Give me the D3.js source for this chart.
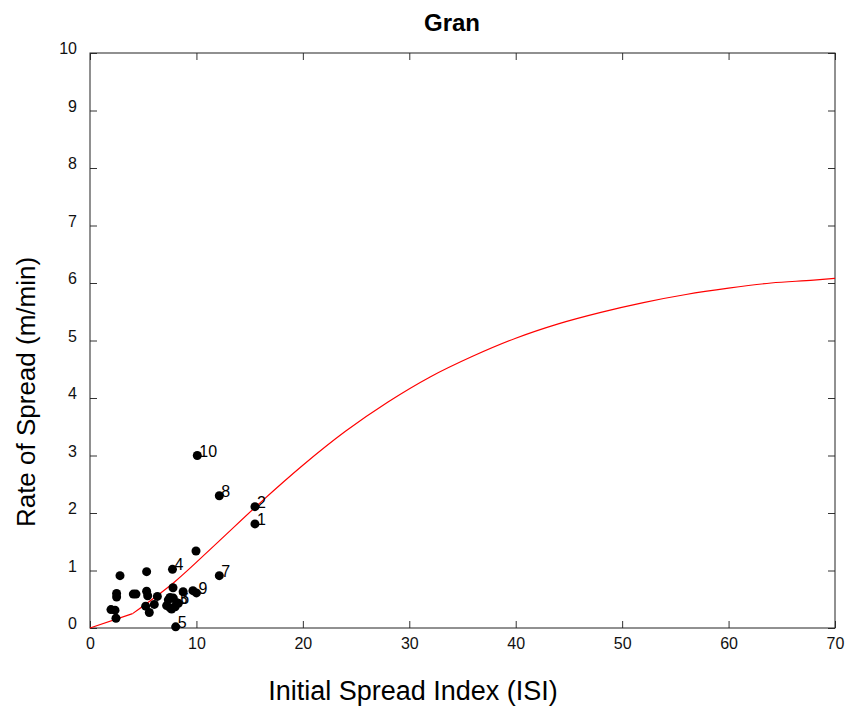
<html>
<head>
<title> Gran </title>
<script src="https://d3js.org/d3.v7.min.js"></script>
</head>
<style>
body { margin: 0; background: #fff; }
text { font-family: "Liberation Sans", Arial, sans-serif; fill: #000; }
.tick text { font-size: 16px; fill: #111; }
.frame { fill: none; stroke: #222; stroke-width: 1; }
</style>
<body>
<script>

// Observed fires: ISI and rate of spread
var isi = [2.82, 5.32, 7.75, 2.5, 2.5, 4.07, 4.32, 5.32, 5.42, 6.33, 5.23, 5.57, 6.04,
           7.8, 7.52, 7.83, 8.75, 9.67, 10.0, 7.2, 7.36, 7.52, 7.67, 8.0, 8.14, 8.3,
           1.97, 2.35, 2.44, 8.05, 12.15, 10.08, 12.15, 15.5, 15.5, 9.96];
var ros = [0.91, 0.98, 1.02, 0.60, 0.54, 0.59, 0.59, 0.64, 0.56, 0.55, 0.38, 0.27, 0.41,
           0.70, 0.53, 0.52, 0.63, 0.65, 0.61, 0.39, 0.49, 0.35, 0.33, 0.37, 0.44, 0.43,
           0.32, 0.31, 0.17, 0.02, 0.91, 3.00, 2.30, 2.11, 1.81, 1.34];
// numbered fires (index into the arrays above)
var labelText = ["1", "2", "3", "4", "5", "6", "7", "8", "9", "10"];
var labelIdx  = [34, 33, 24, 2, 29, 25, 30, 32, 18, 31];

// fitted curve
var curveIsi = [0, 4, 8, 12, 16, 20, 24, 28, 32, 36, 40, 44, 48, 52, 56, 60, 64, 68, 70];
var curveRos = [0, 0.25, 0.81, 1.49, 2.18, 2.83, 3.42, 3.93, 4.37, 4.73, 5.04, 5.29,
                5.49, 5.66, 5.80, 5.91, 6.00, 6.05, 6.08];

var xTicks = [0, 10, 20, 30, 40, 50, 60, 70];
var yTicks = [0, 1, 2, 3, 4, 5, 6, 7, 8, 9, 10];

var margin = {top: 53, right: 11, bottom: 81, left: 90},
    width = 846 - margin.left - margin.right,
    height = 709 - margin.top - margin.bottom;

var x = d3.scaleLinear().domain([0, 70]).range([0, width]);
var y = d3.scaleLinear().domain([0, 10]).range([height, 0]);

var root = d3.select("body").append("svg")
    .attr("width", 846)
    .attr("height", 709);

var svg = root.append("g")
    .attr("transform", "translate(" + margin.left + "," + margin.top + ")");

// axes with inward ticks on all four sides
var tickLen = 7;
svg.append("g")
    .attr("transform", "translate(0," + height + ")")
    .call(d3.axisBottom(x).tickValues(xTicks).tickSizeInner(-tickLen).tickSizeOuter(0).tickPadding(10))
    .call(function(g) { g.select(".domain").remove(); });
svg.append("g")
    .call(d3.axisTop(x).tickValues(xTicks).tickSizeInner(-tickLen).tickSizeOuter(0).tickFormat(""))
    .call(function(g) { g.select(".domain").remove(); });
svg.append("g")
    .call(d3.axisLeft(y).tickValues(yTicks).tickSizeInner(-tickLen).tickSizeOuter(0).tickPadding(13))
    .call(function(g) { g.select(".domain").remove(); g.selectAll("text").attr("dy", "0.05em"); });
svg.append("g")
    .attr("transform", "translate(" + width + ",0)")
    .call(d3.axisRight(y).tickValues(yTicks).tickSizeInner(-tickLen).tickSizeOuter(0).tickFormat(""))
    .call(function(g) { g.select(".domain").remove(); });
svg.selectAll(".tick line").attr("stroke", "#333");

svg.append("rect")
    .attr("class", "frame")
    .attr("width", width)
    .attr("height", height);

// fitted curve: first segment straight, rest smooth
var lineStraight = d3.line()
    .x(function(d) { return x(curveIsi[d]); })
    .y(function(d) { return y(curveRos[d]); });
var lineSmooth = d3.line()
    .curve(d3.curveMonotoneX)
    .x(function(d) { return x(curveIsi[d]); })
    .y(function(d) { return y(curveRos[d]); });
svg.append("path")
    .datum([0, 1])
    .attr("fill", "none")
    .attr("stroke", "#ff0000")
    .attr("stroke-width", 1.2)
    .attr("d", lineStraight);
svg.append("path")
    .datum(d3.range(1, curveIsi.length))
    .attr("fill", "none")
    .attr("stroke", "#ff0000")
    .attr("stroke-width", 1.2)
    .attr("d", lineSmooth);

// points
svg.selectAll(".pt")
    .data(isi)
  .enter().append("circle")
    .attr("class", "pt")
    .attr("cx", function(d) { return x(d); })
    .attr("cy", function(d, i) { return y(ros[i]); })
    .attr("r", 4.5)
    .attr("fill", "#000");

svg.selectAll(".lbl")
    .data(labelText)
  .enter().append("text")
    .attr("class", "lbl")
    .attr("x", function(d, i) { return x(isi[labelIdx[i]]) + 2; })
    .attr("y", function(d, i) { return y(ros[labelIdx[i]]) + 1; })
    .attr("font-size", "16px")
    .text(function(d) { return d; });

// titles
root.append("text")
    .attr("x", 452)
    .attr("y", 31)
    .attr("text-anchor", "middle")
    .attr("font-size", "24px")
    .attr("font-weight", "bold")
    .text("Gran");

root.append("text")
    .attr("x", 413)
    .attr("y", 700)
    .attr("text-anchor", "middle")
    .attr("font-size", "27px")
    .attr("fill", "#222")
    .text("Initial Spread Index (ISI)");

root.append("text")
    .attr("transform", "translate(35,392) rotate(-90)")
    .attr("text-anchor", "middle")
    .attr("font-size", "26px")
    .attr("fill", "#222")
    .text("Rate of Spread (m/min)");

</script>
</body>
</html>
